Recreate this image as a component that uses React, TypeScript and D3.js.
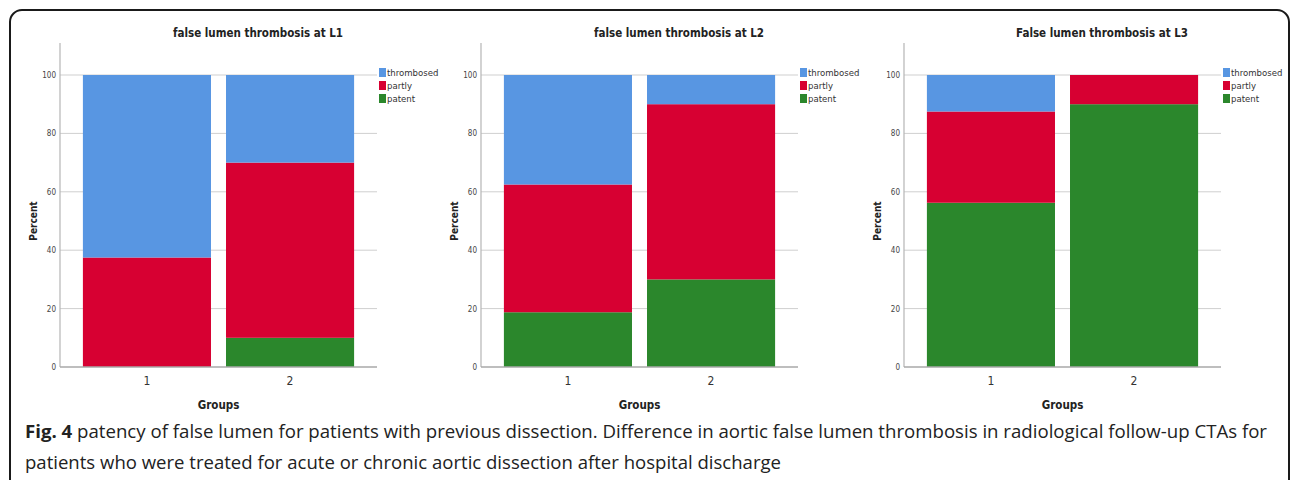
import React from "react";
import * as d3 from "d3";

const groups = ["1", "2"];
const seriesKeys = ["patent", "partly", "thrombosed"];
const legendOrder = ["thrombosed", "partly", "patent"];
const titles = [
  "false lumen thrombosis at L1",
  "false lumen thrombosis at L2",
  "False lumen thrombosis at L3",
];
// percent values per group: [group1, group2]
const patentL1 = [0, 10];
const partlyL1 = [37.5, 60];
const thrombosedL1 = [62.5, 30];
const patentL2 = [18.75, 30];
const partlyL2 = [43.75, 60];
const thrombosedL2 = [37.5, 10];
const patentL3 = [56.25, 90];
const partlyL3 = [31.25, 10];
const thrombosedL3 = [12.5, 0];
const yTicks = [0, 20, 40, 60, 80, 100];

const colors: Record<string, string> = {
  thrombosed: "#5896e2",
  partly: "#d70032",
  patent: "#2b872c",
};

const panelData = [
  { patent: patentL1, partly: partlyL1, thrombosed: thrombosedL1 },
  { patent: patentL2, partly: partlyL2, thrombosed: thrombosedL2 },
  { patent: patentL3, partly: partlyL3, thrombosed: thrombosedL3 },
];
const panelOffsets = [0, 421, 844];

const chartFont = "'Liberation Sans Narrow', 'DejaVu Sans Condensed', sans-serif";

function Panel({ idx }: { idx: number }) {
  const off = panelOffsets[idx];
  const axisX = 60 + off;
  const axisEnd = 377 + off;
  const x = d3
    .scaleBand<string>()
    .domain(groups)
    .range([axisX, axisEnd])
    .paddingInner(0.105)
    .paddingOuter(0.16);
  const y = d3.scaleLinear().domain([0, 100]).range([367, 75]);
  const data = panelData[idx] as Record<string, number[]>;
  const rows = groups.map((g, i) => {
    const r: Record<string, number | string> = { group: g };
    seriesKeys.forEach((k) => (r[k] = data[k][i]));
    return r;
  });
  const stack = d3.stack<any>().keys(seriesKeys)(rows);
  return (
    <g>
      <text
        x={258 + off}
        y={37}
        textAnchor="middle"
        fontFamily={chartFont}
        fontWeight="bold"
        fontSize={11.5}
        fill="#222"
      >
        {titles[idx]}
      </text>
      {yTicks.slice(1).map((t) => (
        <line key={t} x1={axisX} x2={axisEnd} y1={y(t)} y2={y(t)} stroke="#cfcfcf" strokeWidth={1} />
      ))}
      {stack.map((s) =>
        s.map((d, i) =>
          d[1] - d[0] > 0 ? (
            <rect
              key={s.key + i}
              x={x(groups[i])}
              width={x.bandwidth()}
              y={y(d[1])}
              height={y(d[0]) - y(d[1])}
              fill={colors[s.key]}
            />
          ) : null
        )
      )}
      <line x1={axisX} x2={axisX} y1={y(111)} y2={y(0)} stroke="#b5b5b5" strokeWidth={1.2} />
      <line x1={axisX} x2={axisEnd} y1={y(0)} y2={y(0)} stroke="#a8a8a8" strokeWidth={1.5} />
      {yTicks.map((t) => (
        <text
          key={t}
          x={axisX - 4}
          y={y(t) + 3}
          textAnchor="end"
          fontFamily={chartFont}
          fontSize={8}
          fill="#444"
        >
          {t}
        </text>
      ))}
      {groups.map((g) => (
        <text
          key={g}
          x={(x(g) as number) + x.bandwidth() / 2}
          y={385}
          textAnchor="middle"
          fontFamily={chartFont}
          fontSize={12}
          fill="#333"
        >
          {g}
        </text>
      ))}
      <text
        x={(axisX + axisEnd) / 2}
        y={409}
        textAnchor="middle"
        fontFamily={chartFont}
        fontWeight="bold"
        fontSize={11.5}
        fill="#222"
      >
        Groups
      </text>
      <text
        transform={`translate(${axisX - 23},${y(50)}) rotate(-90)`}
        textAnchor="middle"
        fontFamily={chartFont}
        fontWeight="bold"
        fontSize={10}
        fill="#222"
      >
        Percent
      </text>
      {legendOrder.map((k, i) => (
        <g key={k}>
          <rect x={axisEnd + 2} y={68 + i * 13} width={7} height={9} fill={colors[k]} />
          <text
            x={axisEnd + 10}
            y={76 + i * 13}
            fontFamily={chartFont}
            fontSize={9.5}
            fill="#333"
          >
            {k}
          </text>
        </g>
      ))}
    </g>
  );
}

export default function App() {
  return (
    <svg
      width={1295}
      height={480}
      style={{ position: "absolute", left: 0, top: 0, background: "#fff" }}
    >
      <rect x={0} y={0} width={1295} height={480} fill="#fff" />
      <rect
        x={10}
        y={10}
        width={1279}
        height={520}
        rx={12}
        ry={12}
        fill="none"
        stroke="#1a1a1a"
        strokeWidth={2}
      />
      {[0, 1, 2].map((i) => (
        <Panel key={i} idx={i} />
      ))}
      <text
        x={25}
        y={438}
        fontFamily="'Open Sans', sans-serif"
        fontSize={18}
        fill="#222"
        textLength={1242}
        lengthAdjust="spacingAndGlyphs"
      >
        <tspan fontWeight="bold">Fig. 4</tspan>
        <tspan> patency of false lumen for patients with previous dissection. Difference in aortic false lumen thrombosis in radiological follow-up CTAs for</tspan>
      </text>
      <text
        x={25}
        y={469}
        fontFamily="'Open Sans', sans-serif"
        fontSize={18}
        fill="#222"
        textLength={756}
        lengthAdjust="spacingAndGlyphs"
      >
        patients who were treated for acute or chronic aortic dissection after hospital discharge
      </text>
    </svg>
  );
}
